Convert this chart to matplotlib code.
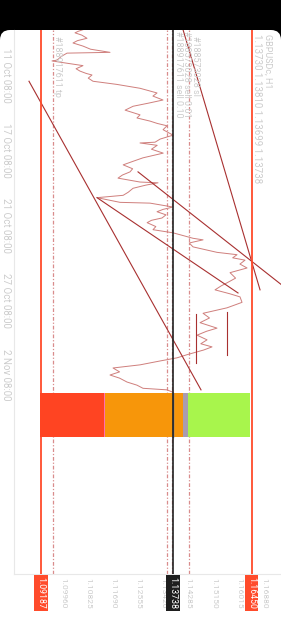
import numpy as np
import matplotlib
matplotlib.use("Agg")
import matplotlib.pyplot as plt
from matplotlib.patches import FancyBboxPatch
import matplotlib.transforms as mtransforms

plt.rcParams['font.family'] = ['Roboto', 'DejaVu Sans']

# ------------------ data ------------------
symbol = "GBPUSDc, H1"
ohlc_text = "1.13730 1.13810 1.13699 1.13738"

# time axis in H1 bars, bar 0 = 11 Oct 08:00
time_ticks = [0, 96, 192, 288, 384]
time_labels = ["11 Oct 08:00", "17 Oct 08:00", "21 Oct 08:00", "27 Oct 08:00", "2 Nov 08:00"]
price_ticks = [1.09960, 1.10825, 1.11690, 1.12555, 1.13420, 1.14285, 1.15150, 1.16015, 1.16880]

bars = [-58, -56, -54, -51, -47, -44, -41, -37, -33, -29, -28, -24, -19, -18, -15, -12, -8,
        -5, -2, 0, 4, 8, 12, 17, 20, 23, 27, 32, 36, 40, 45, 48, 51, 55, 59, 62, 65, 70, 77,
        82, 86, 87, 90, 95, 100, 106, 110, 115, 120, 124, 128, 132, 137, 138, 141, 145, 150,
        154, 157, 163, 164, 169, 172, 175, 179, 183, 186, 189, 194, 198, 202, 209, 211, 215,
        220, 227, 230, 234, 237, 242, 247, 253, 260, 266, 270, 275, 280, 284, 291, 298, 305,
        311, 317, 324, 328, 333, 339, 344, 348, 352, 358, 362, 366, 371, 375, 380, 384, 388,
        393, 397, 401, 403, 406]
close = [1.10639, 1.10480, 1.10363, 1.10600, 1.10777, 1.10450, 1.10294, 1.10639, 1.10900,
         1.11570, 1.10088, 1.09900, 1.09742, 1.09570, 1.10100, 1.10639, 1.10400, 1.10535,
         1.10750, 1.10949, 1.10820, 1.10984, 1.11800, 1.12605, 1.12900, 1.13191, 1.13050,
         1.13398, 1.12900, 1.12367, 1.12091, 1.12350, 1.12605, 1.12500, 1.12950, 1.13200,
         1.13536, 1.13400, 1.13743, 1.13300, 1.13122, 1.12605, 1.13198, 1.13000, 1.13405,
         1.12708, 1.12400, 1.12024, 1.12350, 1.12260, 1.12000, 1.11846, 1.12605, 1.13226,
         1.12800, 1.12364, 1.12200, 1.12024, 1.11123, 1.11916, 1.12950, 1.13743, 1.13400,
         1.13191, 1.13500, 1.13364, 1.13000, 1.12850, 1.13150, 1.13053, 1.13743, 1.14433,
         1.14778, 1.14300, 1.14433, 1.15260, 1.15950, 1.15800, 1.16226, 1.16050, 1.16295,
         1.15709, 1.15900, 1.15605, 1.15400, 1.15191, 1.15700, 1.16053, 1.16122, 1.15605,
         1.14778, 1.15000, 1.14674, 1.15260, 1.14900, 1.14571, 1.14916, 1.14700, 1.15088,
         1.14800, 1.14226, 1.13881, 1.13300, 1.12605, 1.11674, 1.11900, 1.11570, 1.11900,
         1.12157, 1.12500, 1.12708, 1.13536, 1.13738]

# trend lines: (bar start, price start, bar end, price end)
trend_lines = [(8, 1.08777, 403, 1.14708),
               (157, 1.11123, 279, 1.15984),
               (124, 1.12536, 268, 1.17467),
               (-58, 1.14088, 275, 1.16743),
               (306, 1.14536, 369, 1.14536),
               (303, 1.15605, 358, 1.15605)]

red_levels = [1.09187, 1.16450]
last_price = 1.13738
order_levels = [1.09594, 1.13536, 1.13719, 1.14277]
order_labels = ["#188917611 tp", "#188573028 sl",
                "#188573028 sell 0.01\n#188917611 sell 0.10"]

depth_left = [1.09157, 1.11363, 1.11400, 1.14088, 1.14261]
depth_right = [1.11363, 1.11400, 1.14088, 1.14261, 1.16398]
depth_colors = ['#ff4422', '#ff6fb0', '#f7960a', '#a99cb0', '#a8f54c']
depth_bars = (407, 463)

# ------------------ figure ------------------
W, H = 281, 625
fig = plt.figure(figsize=(W / 100, H / 100), dpi=100)
fig.patch.set_facecolor('black')
card = FancyBboxPatch((0, -20), W, H - 30 + 20, boxstyle="round,pad=0,rounding_size=10",
                      transform=None, facecolor='white', edgecolor='none', zorder=0)
fig.add_artist(card)

ax = fig.add_axes([14 / W, 51 / H, 267 / W, 544 / H])
ax.set_facecolor('none')
ax.set_xlim(1.08260, 1.17466)
ax.set_ylim(638.7, -57.6)

grey = '#cccccc'
for s in ['top', 'right']:
    ax.spines[s].set_visible(False)
for s in ['left', 'bottom']:
    ax.spines[s].set_color('#e8e8e8')
    ax.spines[s].set_linewidth(0.8)

ax.set_yticks(time_ticks)
ax.set_yticklabels(time_labels, rotation=-90, va='center', fontsize=7, color=grey)
ax.set_xticks(price_ticks)
ax.set_xticklabels([f"{p:.5f}" for p in price_ticks], rotation=-90, fontsize=6, color=grey)
ax.tick_params(axis='both', length=0)
ax.tick_params(axis='x', pad=3)
ax.tick_params(axis='y', pad=2)

# price line
ax.plot(close, bars, color='#cf7f7c', lw=0.7, zorder=3)

# trend lines
for b0, p0, b1, p1 in trend_lines:
    ax.plot([p0, p1], [b0, b1], color='#a83030', lw=0.8, zorder=4)

# levels
for p in red_levels:
    ax.axvline(p, color='#ff4b2b', lw=1.3, zorder=5)
for p in order_levels:
    ax.axvline(p, color='#d98c8c', lw=0.9, ls=(0, (3, 1.5, 1, 1.5)), zorder=2)

# depth bar
for l, r, c in zip(depth_left, depth_right, depth_colors):
    ax.barh((depth_bars[0] + depth_bars[1]) / 2, r - l, left=l,
            height=depth_bars[1] - depth_bars[0], color=c, zorder=6)
ax.plot([last_price, last_price], depth_bars, color='#4a7fd0', lw=1.0, zorder=7)
ax.axvline(last_price, color='#222222', lw=1.2, zorder=8)

# order labels
txt_kw = dict(rotation=-90, va='top', ha='center', color=grey, fontsize=6.5, zorder=9)
ax_top = mtransforms.blended_transform_factory(ax.transData, ax.transAxes)
label_pos = [(order_levels[0], 3.2, 4.3), (order_levels[3], 4.8, 4.3),
             (order_levels[2], 7.2, 0.5)]
for lab, (lv, dx, dy) in zip(order_labels, label_pos):
    ax.annotate(lab, xy=(lv, 1.0), xycoords=ax_top, xytext=(dx, -dy),
                textcoords='offset points', linespacing=0.95, **txt_kw)

# header
ax.text(0.951, 0.993, symbol, transform=ax.transAxes, **txt_kw)
ax.text(0.910, 0.993, ohlc_text, transform=ax.transAxes, **{**txt_kw, 'fontsize': 7})

# price boxes below the axis
for p, bg in [(red_levels[0], '#ff4b2b'), (red_levels[1], '#ff4b2b'), (last_price, '#1e1e1e')]:
    ax.text(p, -0.005, f"{p:.5f}", transform=ax_top, rotation=-90, ha='center', va='top',
            color='white', fontsize=6.3, zorder=10, clip_on=False,
            bbox=dict(boxstyle='square,pad=0.25', facecolor=bg, edgecolor='none'))

fig.savefig("out.png", dpi=100, facecolor=fig.get_facecolor())
